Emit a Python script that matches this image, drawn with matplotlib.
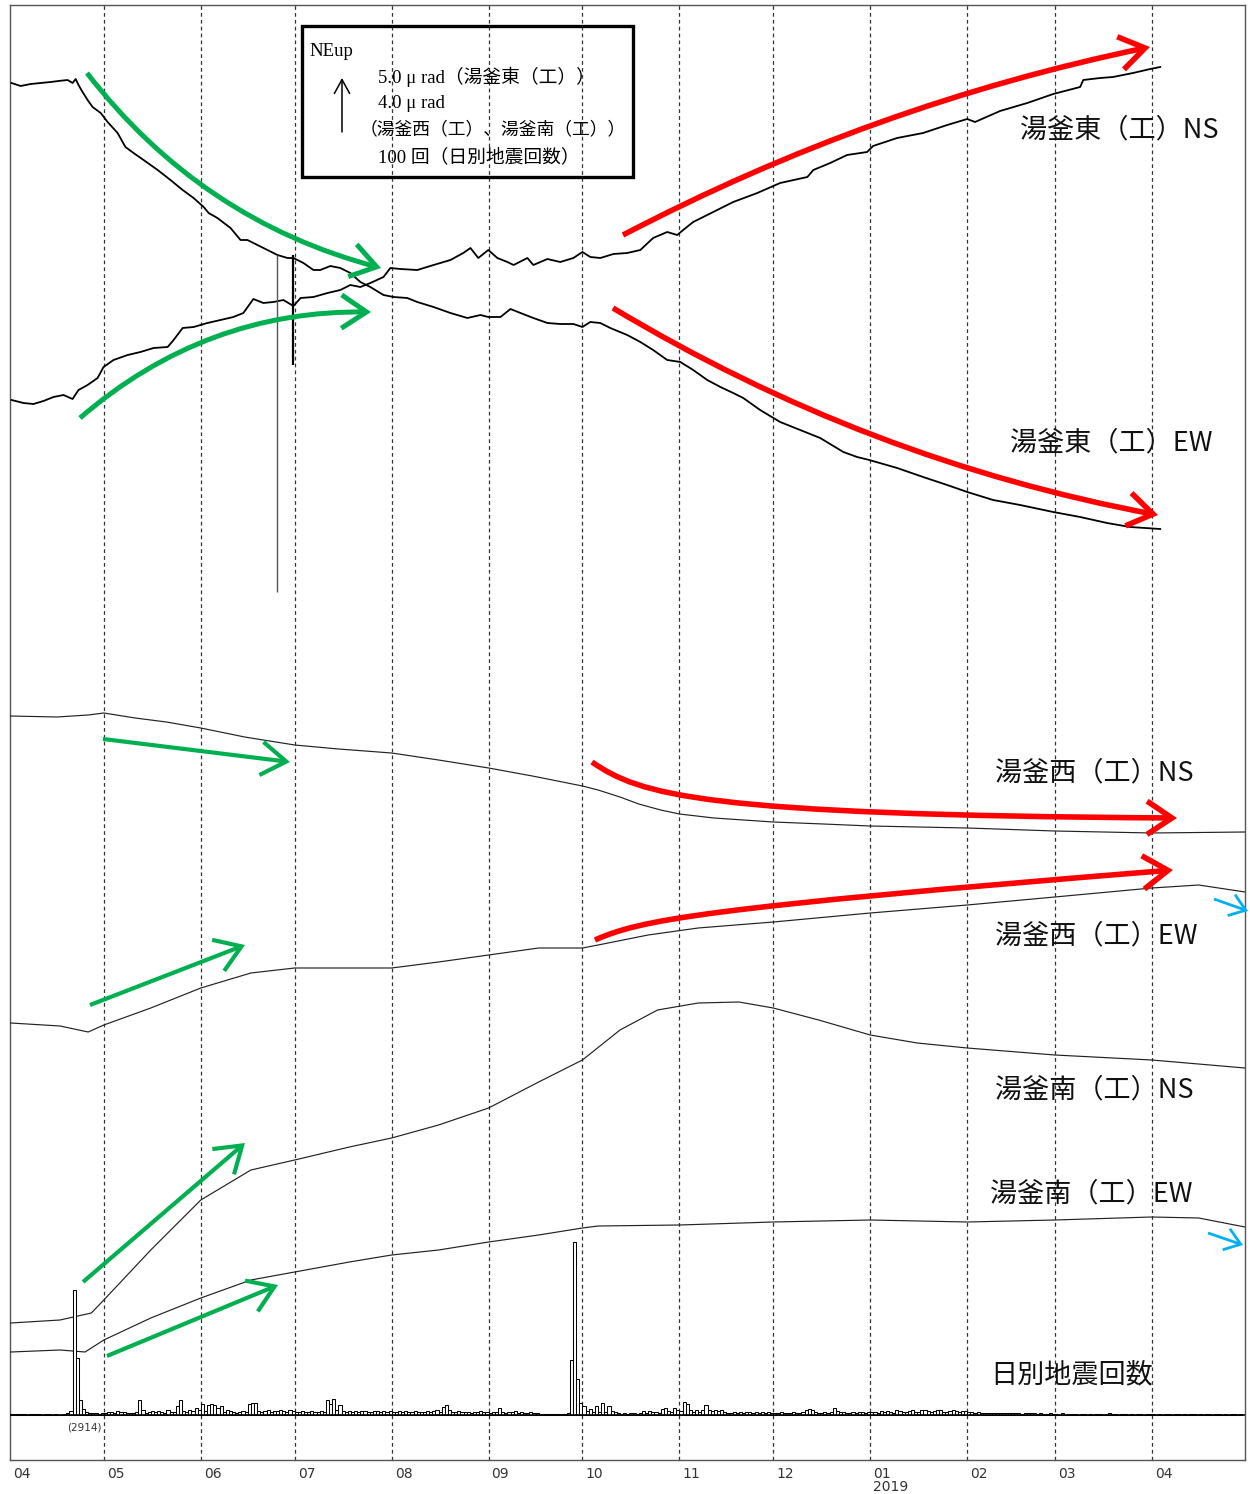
import numpy as np
import pandas as pd
import matplotlib
matplotlib.use('Agg')
import matplotlib.pyplot as plt
from matplotlib.patches import FancyArrowPatch, Rectangle
from matplotlib.path import Path
import matplotlib.transforms as mtransforms

plt.rcParams['font.family'] = ['Noto Sans CJK JP', 'DejaVu Sans']

START = pd.Timestamp('2018-04-01')

# ---------------- data (days since 2018-04-01, level on the stacked chart) --------------
east_ew_days = [0.5, 3.4, 6.6, 9.8, 13.0, 15.5, 18.4, 20.0, 21.0, 21.9, 23.2, 24.8, 26.4, 29.0, 31.2,
                34.4, 36.9, 39.5, 42.7, 47.2, 51.3, 55.2, 58.7, 61.9, 63.5, 66.3, 70.5, 73.7, 75.9,
                79.1, 82.3, 85.5, 88.7, 90.6, 93.8, 97.0, 99.2, 102.4, 105.6, 108.8, 112.0, 115.2,
                119.4, 122.6, 127.0, 130.2, 135.4, 140.8, 146.2, 150.4, 152.9, 156.8, 160.0, 163.2,
                167.3, 171.8, 175.9, 180.1, 183.0, 185.5, 188.7, 191.9, 197.3, 201.5, 205.6, 210.1,
                214.3, 218.4, 222.9, 227.1, 231.2, 234.4, 239.8, 246.2, 252.6, 259.0, 266.4, 270.8,
                274.7, 283.6, 291.9, 299.6, 306.0, 314.3, 322.9, 333.5, 342.1, 350.7, 358.1, 367.7]
east_ew_level = [83, 86, 84, 83, 82, 81, 80, 83, 79, 85, 92, 100, 107, 113, 122,
                 133, 147, 153, 160, 170, 180, 190, 198, 207, 213, 218, 228, 240, 240,
                 245, 250, 255, 258, 258, 263, 270, 270, 266, 268, 273, 282, 287,
                 295, 297, 298, 302, 307, 313, 318, 315, 317, 317, 309, 313,
                 318, 323, 324, 324, 327, 322, 323, 328, 335, 342, 350, 360,
                 362, 370, 380, 387, 393, 398, 410, 422, 430, 438, 452, 457,
                 460, 468, 477, 485, 492, 500, 505, 512, 517, 523, 527, 529]

east_ns_days = [0.5, 4.3, 7.5, 10.7, 13.9, 17.1, 20.0, 21.9, 24.8, 28.0, 29.9, 33.1, 37.6, 41.7,
                45.9, 50.4, 52.3, 55.2, 58.7, 63.1, 67.3, 71.4, 74.6, 77.8, 81.0, 84.2, 87.4, 90.6,
                92.9, 97.0, 101.5, 105.6, 108.8, 112.0, 115.2, 119.4, 121.6, 124.8, 130.2, 135.4,
                140.8, 144.9, 147.2, 149.7, 152.9, 155.8, 159.0, 161.0, 165.4, 167.3, 171.8, 175.9,
                180.1, 183.0, 185.5, 188.7, 192.9, 197.3, 201.5, 205.6, 210.1, 213.3, 215.2, 218.4,
                224.8, 231.2, 238.9, 246.2, 254.9, 256.8, 262.2, 267.6, 274.0, 275.9, 283.6, 291.9,
                299.6, 306.0, 308.5, 316.5, 325.2, 333.5, 342.1, 343.1, 348.5, 352.6, 359.0, 364.5,
                367.7]
east_ns_level = [400, 403, 404, 401, 397, 395, 399, 390, 385, 378, 367, 360, 355, 352,
                 348, 347, 340, 328, 327, 323, 320, 317, 313, 299, 303, 302, 300, 306,
                 298, 297, 293, 290, 285, 287, 283, 277, 268, 269, 270, 265,
                 260, 253, 248, 258, 250, 258, 262, 265, 258, 265, 259, 262,
                 258, 252, 257, 258, 254, 253, 250, 238, 232, 235, 230, 222,
                 212, 202, 193, 183, 177, 170, 163, 155, 152, 146, 138, 133,
                 125, 119, 122, 111, 103, 94, 87, 80, 78, 77, 73, 69,
                 67]

# short spikes in the 湯釜東 EW record
spike_days = [85.5, 90.5]
spike_top = [255, 255]
spike_bottom = [592, 365]

west_ns_days = [0.2, 15, 25, 30, 40, 50, 61, 75, 91, 105, 122, 137, 153, 167, 183,
                188, 195, 201, 208, 214, 225, 244, 260, 275, 306, 334, 365, 394.8]
west_ns_level = [716, 717, 715, 713, 718, 722, 728, 737, 745, 749, 753, 760, 768, 776, 786,
                 790, 797, 804, 810, 814, 818, 822, 824, 826, 828, 831, 833, 832]

west_ew_days = [0.2, 16, 25, 30, 45, 61, 77, 91, 105, 122, 137, 153, 169, 183,
                188, 204, 220, 244, 275, 306, 334, 365, 380, 394.8]
west_ew_level = [1023, 1026, 1032, 1025, 1008, 988, 973, 968, 968, 968, 962, 955, 948, 948,
                 945, 935, 928, 922, 913, 905, 897, 888, 885, 892]

south_ns_days = [0.2, 16, 26, 30, 45, 61, 77, 91, 108.5, 122, 137, 153, 169,
                 183, 195, 207, 220, 233, 244, 258.5, 275, 290, 306, 334, 365, 394.8]
south_ns_level = [1323, 1320, 1313, 1300, 1250, 1200, 1170, 1160, 1147, 1138, 1125, 1108, 1082,
                  1060, 1030, 1010, 1003, 1002, 1008, 1020, 1035, 1043, 1048, 1055, 1060, 1068]

south_ew_days = [0.2, 16, 24, 30, 45, 61, 77, 91, 108.5, 122, 137, 153, 169, 183,
                 188, 214, 244, 275, 306, 334, 365, 380, 394.8]
south_ew_level = [1352, 1350, 1352, 1340, 1318, 1298, 1280, 1272, 1262, 1255, 1250, 1242, 1235,
                  1228, 1226, 1225, 1222, 1220, 1222, 1220, 1217, 1218, 1227]

# daily earthquake counts, from 2018-04-01
counts = (
    [1, 1, 1, 1, 1, 0, 1, 2, 1, 1, 0, 1, 1, 0, 1, 0, 0, 1, 3, 8, 2914, 104, 27, 11, 5, 4, 3, 4, 2, 3]
    + [4, 6, 5, 4, 7, 6, 5, 4, 4, 3, 6, 28, 10, 4, 6, 8, 5, 7, 6, 4, 9, 6, 5, 16, 27, 8, 5, 9, 7, 12, 10]
    + [20, 8, 18, 20, 19, 12, 16, 6, 9, 7, 5, 4, 6, 8, 5, 20, 22, 21, 8, 6, 7, 9, 6, 8, 7, 9, 8, 6, 9, 7]
    + [5, 6, 7, 6, 5, 8, 6, 5, 7, 6, 27, 20, 29, 9, 18, 7, 6, 8, 5, 7, 6, 8, 7, 6, 5, 7, 8, 6, 7, 6, 8]
    + [6, 5, 7, 6, 8, 5, 6, 7, 5, 6, 5, 7, 6, 8, 9, 6, 14, 18, 10, 6, 5, 7, 6, 5, 6, 4, 5, 6, 7, 5, 6]
    + [4, 5, 6, 12, 5, 4, 6, 5, 7, 4, 5, 3, 4, 5, 4, 3, 2, 2, 2, 1, 2, 2, 1, 1, 2, 4, 100, 315, 65, 22]
    + [16, 7, 11, 5, 16, 6, 22, 5, 16, 7, 6, 3, 2, 3, 2, 3, 4, 2, 3, 7, 4, 8, 5, 6, 4, 11, 13, 8, 6, 13, 9]
    + [8, 24, 20, 10, 6, 9, 5, 10, 18, 9, 7, 9, 8, 9, 5, 4, 3, 6, 4, 5, 4, 6, 5, 4, 5, 3, 5, 4, 6, 4]
    + [4, 3, 5, 4, 3, 4, 5, 3, 4, 6, 10, 11, 9, 5, 4, 3, 5, 4, 6, 13, 7, 6, 5, 4, 3, 5, 4, 6, 5, 4, 6]
    + [5, 6, 4, 7, 5, 8, 6, 4, 9, 7, 5, 6, 8, 10, 6, 5, 9, 10, 8, 6, 7, 10, 9, 6, 5, 8, 9, 7, 6, 8, 7]
    + [6, 5, 4, 5, 4, 3, 4, 3, 4, 4, 3, 3, 4, 3, 3, 4, 3, 2, 3, 4, 3, 3, 2, 3, 2, 2, 3, 2]
    + [2, 0, 3, 0, 2, 1, 2, 0, 1, 2, 0, 1, 0, 2, 1, 0, 2, 3, 2, 2, 0, 1, 2, 0, 1, 0, 2, 1, 0, 1, 2]
    + [1, 0, 2, 0, 1, 2, 0, 1, 2, 0, 1, 0, 2, 1, 0, 1, 0, 2, 1, 0, 1, 2, 0, 1, 0, 1, 1, 0, 1]
)
off_scale_above = 1000    # counts above this are drawn truncated ...
off_scale_shown = 228     # ... at this height, with the true value written below
clipped_label = '(2914)'

month_ticks = pd.date_range('2018-04-01', '2019-04-01', freq='MS')
month_labels = ['04', '05', '06', '07', '08', '09', '10', '11', '12', '01\n2019', '02', '03', '04']

trace_labels = ['湯釜東（工）NS', '湯釜東（工）EW', '湯釜西（工）NS', '湯釜西（工）EW',
                '湯釜南（工）NS', '湯釜南（工）EW', '日別地震回数']

# ---------------- figure ----------------
W, H = 1250, 1494
fig = plt.figure(figsize=(W / 100, H / 100), dpi=100)
fig.patch.set_facecolor('white')

L, R, T, B = 10, 1245, 5, 1460
ax = fig.add_axes([L / W, (H - B) / H, (R - L) / W, (B - T) / H])
ax.set_ylim(B, T)
ax.set_xlim(START + pd.Timedelta(days=0.2), START + pd.Timedelta(days=394.8))


def d(days):
    return START + pd.to_timedelta(np.asarray(days, dtype=float), unit='D')


BASE = 1415
COUNT_PX = 0.55   # level units per earthquake

for m in month_ticks[1:]:
    ax.axvline(m, color='#333333', lw=0.9, ls=(0, (3, 2.5)), zorder=1)

ax.plot(d(east_ew_days), east_ew_level, color='black', lw=1.3, zorder=3)
ax.plot(d(east_ns_days), east_ns_level, color='black', lw=1.3, zorder=3)
ax.vlines(d(spike_days[:1]), spike_top[:1], spike_bottom[:1], color='#555555', lw=1.0, zorder=3)
ax.vlines(d(spike_days[1:]), spike_top[1:], spike_bottom[1:], color='black', lw=1.6, zorder=3)

for dd, lv in [(west_ns_days, west_ns_level), (west_ew_days, west_ew_level),
               (south_ns_days, south_ns_level), (south_ew_days, south_ew_level)]:
    ax.plot(d(dd), lv, color='#222222', lw=0.85, zorder=3)

cnt = np.asarray(counts, dtype=float)
shown = np.where(cnt > off_scale_above, off_scale_shown, cnt)
bar_dates = START + pd.to_timedelta(np.arange(len(cnt)), unit='D')
ax.bar(bar_dates, -shown * COUNT_PX, bottom=BASE, width=1.0, align='edge',
       facecolor='white', edgecolor='black', lw=0.75, zorder=4)
ax.axhline(BASE, color='black', lw=1.2, zorder=5)

ax.set_yticks([])
ax.set_xticks(month_ticks)
ax.set_xticklabels(month_labels, family=['DejaVu Sans'],
                   fontsize=10, color='#333333', linespacing=0.95)
ax.tick_params(axis='x', length=0, pad=5)
off = mtransforms.ScaledTranslation(3 / 100, 0, fig.dpi_scale_trans)
for lab in ax.get_xticklabels():
    lab.set_horizontalalignment('left')
    lab.set_verticalalignment('top')
    lab.set_transform(lab.get_transform() + off)
for s in ax.spines.values():
    s.set_color('#555555')
    s.set_linewidth(1.0)

# ---------------- annotation overlay (pixel space) ----------------
ov = fig.add_axes([0, 0, 1, 1], facecolor='none')
ov.set_xlim(0, W)
ov.set_ylim(H, 0)
ov.axis('off')

GREEN, RED, BLUE = '#00B050', '#FF0000', '#00B0F0'


def arrow(p0, p1, color, lw, rad=0.0, hl=1.8, hw=1.2, path=None):
    style = f'->,head_length={hl},head_width={hw}'
    if path is not None:
        a = FancyArrowPatch(path=Path(path, [Path.MOVETO, Path.CURVE4, Path.CURVE4, Path.CURVE4]),
                            arrowstyle=style, mutation_scale=10, color=color, lw=lw,
                            shrinkA=0, shrinkB=0, joinstyle='miter', capstyle='butt')
    else:
        a = FancyArrowPatch(p0, p1, connectionstyle=f'arc3,rad={rad}', arrowstyle=style,
                            mutation_scale=10, color=color, lw=lw, shrinkA=0, shrinkB=0,
                            joinstyle='miter', capstyle='butt')
    ov.add_patch(a)


# green (before October 2018)
arrow((87, 73), (381, 268), GREEN, 3.6, rad=0.17)
arrow((80, 418), (371, 312), GREEN, 3.6, rad=-0.19)
arrow((103, 739), (290, 762), GREEN, 3.0)
arrow((90, 1005), (245, 945), GREEN, 3.0)
arrow((83, 1282), (245, 1143), GREEN, 3.0)
arrow((107, 1356), (278, 1285), GREEN, 3.0)
# red (after October 2018)
arrow((623, 235), (1150, 47), RED, 4.0, rad=-0.07)
arrow((613, 308), (1158, 515), RED, 4.0, rad=0.09)
arrow(None, None, RED, 4.0, path=[(592, 762), (640, 795), (700, 815), (1177, 818)])
arrow(None, None, RED, 4.0, path=[(595, 940), (640, 920), (700, 908), (1173, 870)])
# blue
arrow((1214, 899), (1248, 911), BLUE, 2.0, hl=1.1, hw=0.8)
arrow((1208, 1233), (1243, 1245), BLUE, 2.0, hl=1.1, hw=0.8)

# legend box
ov.add_patch(Rectangle((302, 26), 331, 151, fill=False, lw=2.4, ec='black', zorder=6))
serif = ['Liberation Serif', 'Noto Sans CJK JP']
ov.text(309, 52, 'NEup', family=serif, fontsize=13.5, va='center', ha='left')
ov.text(378, 77, '5.0 μ rad（湯釜東（工））', family=serif, fontsize=13.5, va='center', ha='left')
ov.text(378, 103, '4.0 μ rad', family=serif, fontsize=13.5, va='center', ha='left')
ov.text(360, 130, '（湯釜西（工）、湯釜南（工））', family=serif, fontsize=12.8, va='center', ha='left')
ov.text(378, 157, '100 回（日別地震回数）', family=serif, fontsize=13.5, va='center', ha='left')
ov.add_patch(FancyArrowPatch((342, 132), (342, 78), arrowstyle='->,head_length=1.0,head_width=0.55',
                             mutation_scale=10, color='black', lw=1.1, shrinkA=0, shrinkB=0))

# trace labels
label_pos = [(1020, 130), (1010, 443), (995, 773), (995, 936), (995, 1090), (990, 1194), (990, 1375)]
for (x, y), t in zip(label_pos, trace_labels):
    ov.text(x, y, t, fontsize=19.5, va='center', ha='left', color='#111111')

ov.text(67, 1427, clipped_label, family=['DejaVu Sans'], fontsize=7.5,
        va='center', ha='left', color='#333333')

fig.savefig('out.png', dpi=100)
